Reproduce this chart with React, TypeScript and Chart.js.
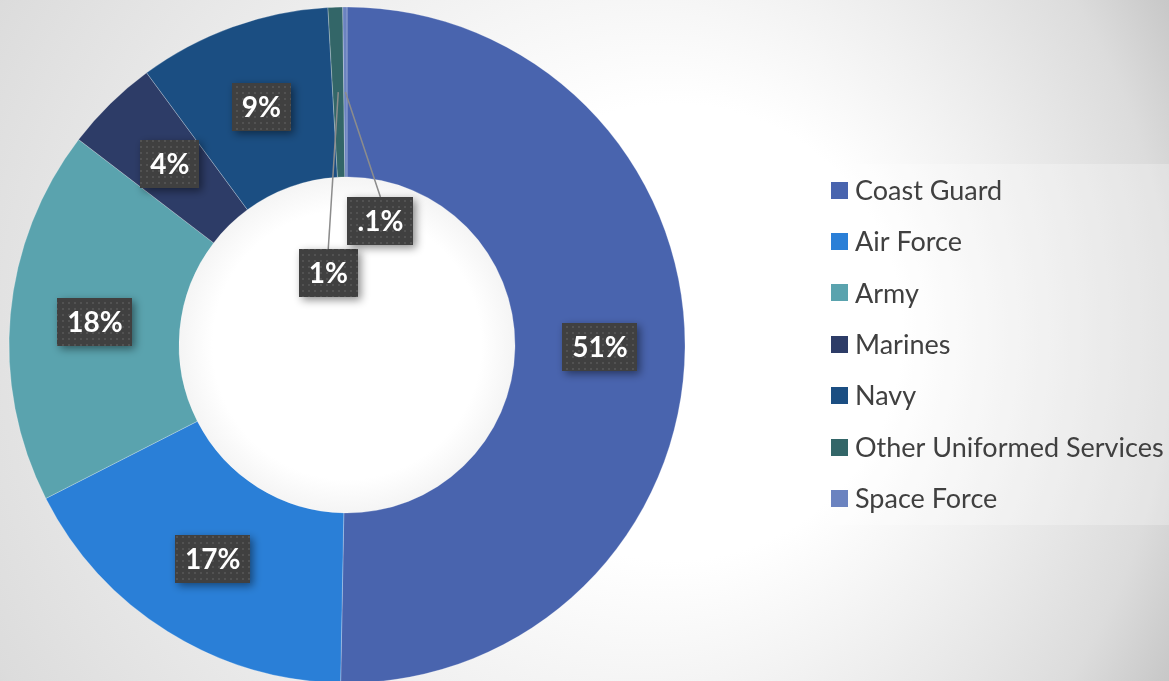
import React, { useEffect, useRef } from "react";
import { Chart, registerables } from "chart.js";

Chart.register(...registerables);

const categories = [
  "Coast Guard",
  "Air Force",
  "Army",
  "Marines",
  "Navy",
  "Other Uniformed Services",
  "Space Force",
];
const shares = [50.3, 17.2, 17.9, 4.5, 9.2, 0.7, 0.2];
const labelTexts = ["51%", "17%", "18%", "4%", "9%", "1%", ".1%"];
const colors = ["#4964ae", "#2a7fd7", "#5aa3ae", "#2d3c67", "#1b4e82", "#336668", "#6b83c0"];

const W = 1169;
const H = 681;

function makePattern(ctx: CanvasRenderingContext2D) {
  const c = document.createElement("canvas");
  c.width = 6;
  c.height = 6;
  const p = c.getContext("2d")!;
  p.fillStyle = "#404040";
  p.fillRect(0, 0, 6, 6);
  p.fillStyle = "#525252";
  p.fillRect(2, 2, 2, 2);
  return ctx.createPattern(c, "repeat")!;
}

const backgroundPlugin = {
  id: "bg",
  beforeDraw(chart: any) {
    const ctx = chart.ctx as CanvasRenderingContext2D;
    ctx.save();
    const g = ctx.createRadialGradient(730, 330, 60, 450, 340, 900);
    g.addColorStop(0, "#ffffff");
    g.addColorStop(0.2, "#ffffff");
    g.addColorStop(0.68, "#dcdcdc");
    g.addColorStop(0.81, "#c9c9c9");
    g.addColorStop(1, "#b4b4b4");
    ctx.fillStyle = g;
    ctx.fillRect(0, 0, W, H);
    ctx.fillStyle = "rgba(255,255,255,0.25)";
    ctx.fillRect(818, 164, W - 818, 361);
    ctx.restore();
  },
  beforeDatasetsDraw(chart: any) {
    const ctx = chart.ctx as CanvasRenderingContext2D;
    const arc = chart.getDatasetMeta(0).data[0] as any;
    if (!arc) return;
    const { x, y, innerRadius } = arc.getProps(["x", "y", "innerRadius"], true);
    ctx.save();
    const g = ctx.createRadialGradient(x, y, innerRadius * 0.8, x, y, innerRadius + 2);
    g.addColorStop(0, "#ffffff");
    g.addColorStop(1, "#f4f4f4");
    ctx.fillStyle = g;
    ctx.beginPath();
    ctx.arc(x, y, innerRadius + 2, 0, Math.PI * 2);
    ctx.fill();
    ctx.restore();
  },
};

const leaders: Record<number, { dx: number; dy: number }> = {
  5: { dx: -10, dy: 181 },
  6: { dx: 35, dy: 129 },
};

const labelPlugin = {
  id: "boxLabels",
  afterDatasetsDraw(chart: any) {
    const ctx = chart.ctx as CanvasRenderingContext2D;
    const meta = chart.getDatasetMeta(0);
    const pattern = makePattern(ctx);
    ctx.save();
    ctx.font = "bold 28px Lato, 'Open Sans', sans-serif";
    meta.data.forEach((arc: any, i: number) => {
      const { x, y, startAngle, endAngle, innerRadius, outerRadius } = arc.getProps(
        ["x", "y", "startAngle", "endAngle", "innerRadius", "outerRadius"],
        true
      );
      const mid = (startAngle + endAngle) / 2;
      const r = (innerRadius + outerRadius) / 2;
      const px = x + Math.cos(mid) * r;
      const py = y + Math.sin(mid) * r;
      const text = labelTexts[i];
      const tw = ctx.measureText(text).width;
      const bw = tw + 20;
      const bh = 48;
      let bx = px;
      let by = py;
      const lead = leaders[i];
      if (lead) {
        bx = px + lead.dx;
        by = py + lead.dy;
        ctx.save();
        ctx.strokeStyle = "#8c8c8c";
        ctx.lineWidth = 1.5;
        ctx.beginPath();
        ctx.moveTo(px, py);
        ctx.lineTo(bx, by - bh / 2);
        ctx.stroke();
        ctx.restore();
      }
      ctx.save();
      ctx.shadowColor = "rgba(0,0,0,0.45)";
      ctx.shadowBlur = 8;
      ctx.shadowOffsetX = 3;
      ctx.shadowOffsetY = 3;
      ctx.fillStyle = pattern;
      ctx.fillRect(Math.round(bx - bw / 2), Math.round(by - bh / 2), Math.round(bw), bh);
      ctx.restore();
      ctx.fillStyle = "#ffffff";
      ctx.textAlign = "center";
      ctx.textBaseline = "middle";
      ctx.fillText(text, bx, by + 1);
    });
    ctx.restore();
  },
};

const legendPlugin = {
  id: "sideLegend",
  afterDraw(chart: any) {
    const ctx = chart.ctx as CanvasRenderingContext2D;
    ctx.save();
    ctx.font = "27px Lato, 'Open Sans', sans-serif";
    ctx.textBaseline = "middle";
    ctx.textAlign = "left";
    categories.forEach((name, i) => {
      const cy = 190 + i * 51.4;
      ctx.fillStyle = colors[i];
      ctx.fillRect(831, Math.round(cy - 8.5), 17, 17);
      ctx.fillStyle = "#404040";
      ctx.fillText(name, 855, cy + 1);
    });
    ctx.restore();
  },
};

export default function App() {
  const ref = useRef<HTMLCanvasElement | null>(null);
  useEffect(() => {
    if (!ref.current) return;
    const chart = new Chart(ref.current, {
      type: "doughnut",
      data: {
        labels: categories,
        datasets: [
          {
            data: shares,
            backgroundColor: colors,
            borderColor: "rgba(255,255,255,0.25)",
            borderWidth: 1,
            radius: 338,
            cutout: "49.7%",
          } as any,
        ],
      },
      options: {
        responsive: false,
        animation: false,
        devicePixelRatio: 1,
        layout: { padding: { left: 9, right: W - 685, top: 9, bottom: 0 } },
        plugins: {
          legend: { display: false },
          tooltip: { enabled: false },
        },
      },
      plugins: [backgroundPlugin, labelPlugin, legendPlugin],
    });
    return () => chart.destroy();
  }, []);
  return (
    <div style={{ position: "fixed", left: 0, top: 0, width: W, height: H }}>
      <canvas ref={ref} width={W} height={H} style={{ display: "block", width: W, height: H }} />
    </div>
  );
}
